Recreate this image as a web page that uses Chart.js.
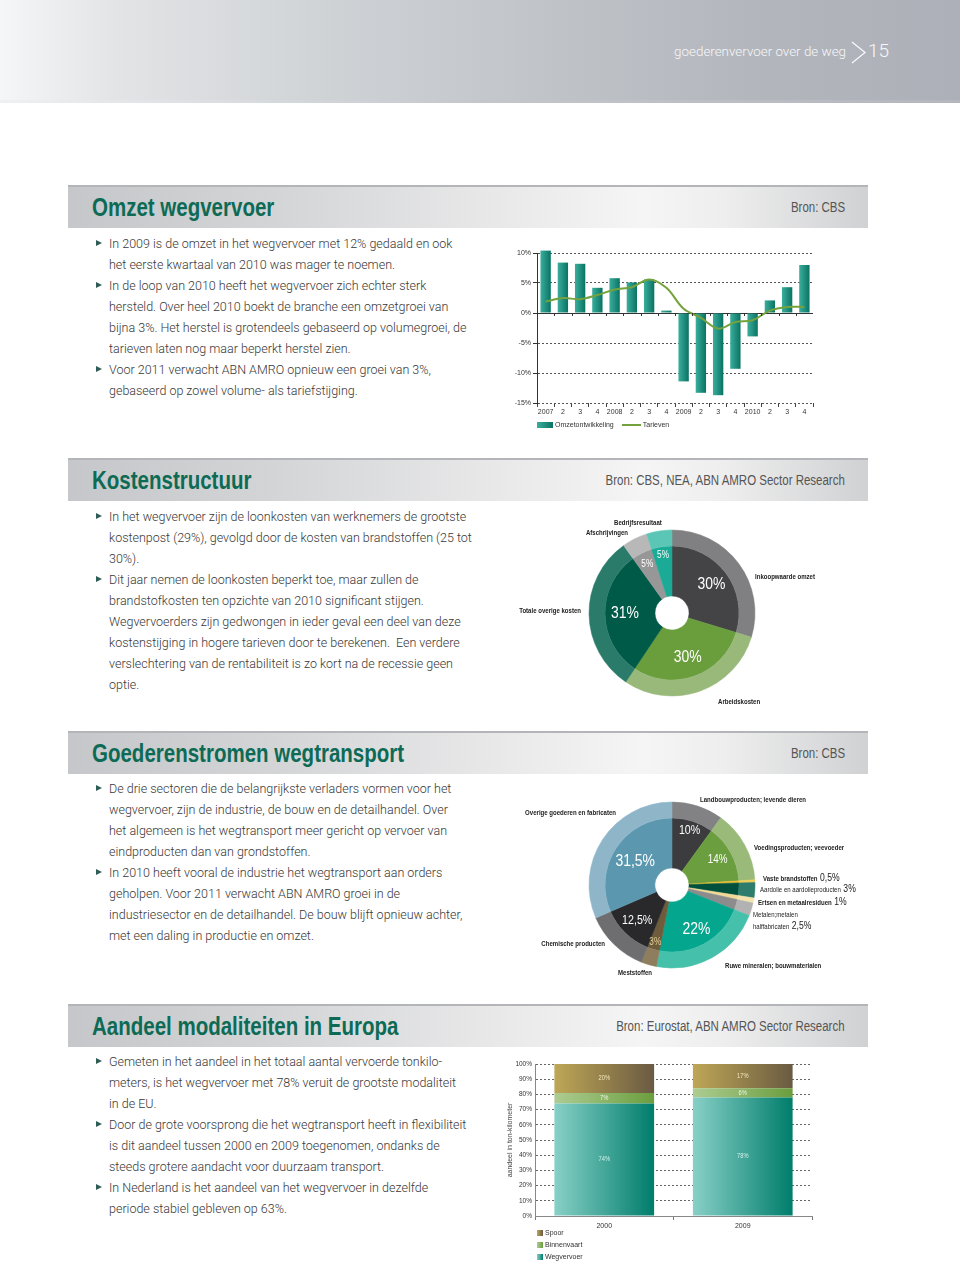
<!DOCTYPE html>
<html lang="nl">
<head>
<meta charset="utf-8">
<title>goederenvervoer over de weg</title>
<script src="https://cdn.jsdelivr.net/npm/chart.js@4.4.1/dist/chart.umd.min.js"></script>
<style>
  html, body { margin: 0; padding: 0; }
  body { width: 960px; height: 1264px; position: relative; overflow: hidden; background: #fff;
         font-family: Roboto, "Liberation Sans", sans-serif; }
  .kop { position: absolute; left: 0; top: 0; width: 960px; height: 103px;
         background: linear-gradient(to right, #f5f6f7 0%, #e2e4e6 12%, #cfd2d5 35%, #bec1c6 60%, #b2b5bc 80%, #adb0b8 100%); }
  .kop .rand { position: absolute; left: 0; bottom: 0; width: 960px; height: 3px;
               background: linear-gradient(to right, #eef1f4, #c3c7cc 50%, #b3b7bd); }
  .kop .titel { position: absolute; right: 114px; top: 44px; font-size: 13.4px; line-height: 16px;
                font-weight: 300; color: #f7f8f9; white-space: nowrap; }
  .kop .nr { position: absolute; left: 868px; top: 40px; font-size: 19px; line-height: 22px;
             font-weight: 300; color: #f7f8f9; }
  .kop svg { position: absolute; left: 850px; top: 41px; }
  .balk { position: absolute; left: 68px; width: 800px; height: 41px; border-top: 2px solid #b3b5b8;
          background: linear-gradient(to right, #c5c7ca 0%, #d3d4d6 25%, #e6e6e7 50%, #f5f5f5 72%, #eeeeee 82%, #d0d1d3 100%); }
  .balk .kopje { position: absolute; left: 24px; top: 0; line-height: 41px; font-size: 25px; font-weight: 700;
                 color: #0d6b55; white-space: nowrap; transform-origin: left center; }
  .balk .bron { position: absolute; right: 23px; top: 0; line-height: 41px; font-size: 14px;
                color: #555; white-space: nowrap; transform-origin: right center; }
  .tekst { position: absolute; left: 96px; font-size: 12.5px; line-height: 21px; font-weight: 300;
           color: #383838; white-space: nowrap; }
  .tekst .p { position: relative; padding-left: 13px; }
  .tekst .p::before { content: ""; position: absolute; left: 0; top: 7px; width: 0; height: 0;
                      border-left: 6px solid #2f5d55; border-top: 3.5px solid transparent; border-bottom: 3.5px solid transparent; }
  canvas { position: absolute; }
  .legenda { position: absolute; font-size: 7px; line-height: 12px; color: #333; white-space: nowrap; }
  .legenda .item { display: inline-block; margin-right: 8px; }
  .legenda.staand .item { display: block; }
  .legenda .blok { display: inline-block; vertical-align: middle; margin-right: 2px; }
</style>
</head>
<body>

<div class="kop">
  <div class="titel">goederenvervoer over de weg</div>
  <svg width="18" height="24" viewBox="0 0 18 24"><polyline points="2,1 15,11.5 2,22" fill="none" stroke="#f7f8f9" stroke-width="1.3"/></svg>
  <div class="nr">15</div>
  <div class="rand"></div>
</div>

<div class="balk" style="top:185px"><span class="kopje smal">Omzet wegvervoer</span><span class="bron smal">Bron: CBS</span></div>
<div class="tekst" style="top:233px">
  <div class="p">In 2009 is de omzet in het wegvervoer met 12% gedaald en ook<br>het eerste kwartaal van 2010 was mager te noemen.</div>
  <div class="p">In de loop van 2010 heeft het wegvervoer zich echter sterk<br>hersteld. Over heel 2010 boekt de branche een omzetgroei van<br>bijna 3%. Het herstel is grotendeels gebaseerd op volumegroei, de<br>tarieven laten nog maar beperkt herstel zien.</div>
  <div class="p">Voor 2011 verwacht ABN AMRO opnieuw een groei van 3%,<br>gebaseerd op zowel volume- als tariefstijging.</div>
</div>
<canvas id="omzet" width="330" height="178" style="left:495px; top:243px"></canvas>
<div id="omzetLegenda" class="legenda" style="left:537px; top:419px"></div>

<div class="balk" style="top:458px"><span class="kopje smal">Kostenstructuur</span><span class="bron smal">Bron: CBS, NEA, ABN AMRO Sector Research</span></div>
<div class="tekst" style="top:506px">
  <div class="p">In het wegvervoer zijn de loonkosten van werknemers de grootste<br>kostenpost (29%), gevolgd door de kosten van brandstoffen (25 tot<br>30%).</div>
  <div class="p">Dit jaar nemen de loonkosten beperkt toe, maar zullen de<br>brandstofkosten ten opzichte van 2010 significant stijgen.<br>Wegvervoerders zijn gedwongen in ieder geval een deel van deze<br>kostenstijging in hogere tarieven door te berekenen.&nbsp; Een verdere<br>verslechtering van de rentabiliteit is zo kort na de recessie geen<br>optie.</div>
</div>
<canvas id="kosten" width="365" height="202" style="left:505px; top:510px"></canvas>

<div class="balk" style="top:731px"><span class="kopje smal">Goederenstromen wegtransport</span><span class="bron smal">Bron: CBS</span></div>
<div class="tekst" style="top:778px">
  <div class="p">De drie sectoren die de belangrijkste verladers vormen voor het<br>wegvervoer, zijn de industrie, de bouw en de detailhandel. Over<br>het algemeen is het wegtransport meer gericht op vervoer van<br>eindproducten dan van grondstoffen.</div>
  <div class="p">In 2010 heeft vooral de industrie het wegtransport aan orders<br>geholpen. Voor 2011 verwacht ABN AMRO groei in de<br>industriesector en de detailhandel. De bouw blijft opnieuw achter,<br>met een daling in productie en omzet.</div>
</div>
<canvas id="goederen" width="365" height="190" style="left:505px; top:790px"></canvas>

<div class="balk" style="top:1004px"><span class="kopje smal">Aandeel modaliteiten in Europa</span><span class="bron smal">Bron: Eurostat, ABN AMRO Sector Research</span></div>
<div class="tekst" style="top:1051px">
  <div class="p">Gemeten in het aandeel in het totaal aantal vervoerde tonkilo-<br>meters, is het wegvervoer met 78% veruit de grootste modaliteit<br>in de EU.</div>
  <div class="p">Door de grote voorsprong die het wegtransport heeft in flexibiliteit<br>is dit aandeel tussen 2000 en 2009 toegenomen, ondanks de<br>steeds grotere aandacht voor duurzaam transport.</div>
  <div class="p">In Nederland is het aandeel van het wegvervoer in dezelfde<br>periode stabiel gebleven op 63%.</div>
</div>
<canvas id="aandeel" width="325" height="177" style="left:495px; top:1055px"></canvas>
<div id="aandeelLegenda" class="legenda staand" style="left:537px; top:1227px"></div>

<script>
// omzet wegvervoer, procentuele verandering per kwartaal
const kwartalen = ['2007', '2', '3', '4', '2008', '2', '3', '4', '2009', '2', '3', '4', '2010', '2', '3', '4'];
const omzetontwikkeling = [10.4, 8.4, 8.2, 4.2, 5.8, 5.1, 5.6, 0.4, -11.4, -13.3, -13.7, -9.3, -3.9, 2.1, 4.3, 8.0];
const tarieven = [1.9, 2.5, 2.3, 3.0, 3.9, 4.3, 5.6, 4.2, 0.7, -0.8, -2.6, -1.5, -1.2, 0.4, 1.0, 1.0];
const omzetTicks = [10, 5, 0, -5, -10, -15];

// kostenstructuur
const kostenLabels = ['Inkoopwaarde omzet', 'Arbeidskosten', 'Totale overige kosten', 'Afschrijvingen', 'Bedrijfsresultaat'];
const kostenWaarden = [30, 30, 31, 5, 5];

// goederenstromen
const goederenLabels = ['Landbouwproducten; levende dieren', 'Voedingsproducten; veevoeder', 'Vaste brandstoffen',
  'Aardolie en aardolieproducten', 'Ertsen en metaalresiduen', ['Metalen;metalen', 'halffabricaten'],
  'Ruwe mineralen; bouwmaterialen', 'Meststoffen', 'Chemische producten', 'Overige goederen en fabricaten'];
const goederenWaarden = [10, 14, 0.5, 3, 1, 2.5, 22, 3, 12.5, 31.5];

// aandeel modaliteiten
const jaren = ['2000', '2009'];
const wegvervoer = [74, 78];
const binnenvaart = [7, 6];
const spoor = [20, 17];
const aandeelTicks = [0, 10, 20, 30, 40, 50, 60, 70, 80, 90, 100];

// kijken of er een smalle letter is, anders Liberation Sans smaller maken
const SMAL = (function () {
  const c = document.createElement('canvas').getContext('2d');
  c.font = '20px monospace';
  const basis = c.measureText('Goederenvervoer 2009').width;
  c.font = '20px "Liberation Sans Narrow", monospace';
  return c.measureText('Goederenvervoer 2009').width !== basis;
})();
const smalFamilie = SMAL ? '"Liberation Sans Narrow", "Liberation Sans", sans-serif' : '"Liberation Sans", Arial, sans-serif';
const knijp = SMAL ? 1 : 0.82;

document.querySelectorAll('.smal').forEach(el => {
  el.style.fontFamily = smalFamilie;
  if (!SMAL) el.style.transform = 'scaleX(0.82)';
});

function procent(v) {
  return String(v).replace('.', ',') + '%';
}

function schrijf(ctx, tekst, x, y, uitlijning) {
  ctx.save();
  ctx.translate(x, y);
  ctx.scale(knijp, 1);
  ctx.textAlign = uitlijning;
  ctx.fillText(tekst, 0, 0);
  ctx.restore();
  return ctx.measureText(tekst).width * knijp;
}

function balkVerloop(c, licht, donker) {
  const chart = c.chart;
  const area = chart.chartArea;
  if (!area || c.type !== 'data') return donker;
  const ds = chart.data.datasets[c.datasetIndex];
  const cat = (area.right - area.left) / chart.data.labels.length;
  const w = cat * ds.categoryPercentage * ds.barPercentage;
  const mid = chart.scales.x.getPixelForValue(c.dataIndex);
  const g = chart.ctx.createLinearGradient(mid - w / 2, 0, mid + w / 2, 0);
  g.addColorStop(0, licht);
  g.addColorStop(1, donker);
  return g;
}

Chart.defaults.font.family = smalFamilie;
Chart.defaults.color = '#333';

// kleine streepjes op de nullijn
const nulStreepjes = {
  id: 'nulStreepjes',
  afterDatasetsDraw(chart) {
    const x = chart.scales.x, y = chart.scales.y, ctx = chart.ctx;
    const y0 = y.getPixelForValue(0);
    const n = chart.data.labels.length;
    const cat = (x.right - x.left) / n;
    ctx.save();
    ctx.strokeStyle = '#333';
    ctx.lineWidth = 1;
    ctx.beginPath();
    for (let i = 1; i < n; i++) {
      const px = Math.round(x.left + i * cat) + 0.5;
      ctx.moveTo(px, y0);
      ctx.lineTo(px, y0 + 3);
    }
    ctx.stroke();
    ctx.restore();
  }
};

const omzetChart = new Chart(document.getElementById('omzet'), {
  data: {
    labels: kwartalen,
    datasets: [
      { type: 'bar', label: 'Omzetontwikkeling', data: omzetontwikkeling, order: 1, clip: false,
        categoryPercentage: 0.6, barPercentage: 1,
        backgroundColor: c => balkVerloop(c, '#3aae9d', '#0a7363') },
      { type: 'line', label: 'Tarieven', data: tarieven, order: 0,
        borderColor: '#74a23c', borderWidth: 2, pointRadius: 0, tension: 0.35 }
    ]
  },
  options: {
    responsive: false,
    animation: false,
    layout: { padding: { top: 10, right: 12, left: 0, bottom: 0 } },
    plugins: { legend: { display: false }, tooltip: { enabled: false } },
    scales: {
      x: {
        grid: { offset: true, drawOnChartArea: false, tickLength: 4, color: '#444' },
        border: { display: false },
        ticks: { font: { size: 7 }, color: '#333', padding: 1, maxRotation: 0, autoSkip: false },
        afterFit: s => { s.height = 18; }
      },
      y: {
        min: -15,
        max: 10,
        afterBuildTicks: s => { s.ticks = omzetTicks.map(v => ({ value: v })); },
        grid: { color: c => (c.tick && c.tick.value === 0) ? '#333' : '#555', tickLength: 4, tickColor: '#333' },
        border: { display: true, color: '#333', dash: c => (c.tick && c.tick.value !== 0) ? [2, 2] : [] },
        ticks: { font: { size: 7 }, color: '#333', padding: 2, callback: v => v + '%' },
        afterFit: s => { s.width = 42; }
      }
    }
  },
  plugins: [nulStreepjes]
});

// legenda onder de omzetgrafiek
(function () {
  const el = document.getElementById('omzetLegenda');
  omzetChart.data.datasets.forEach(ds => {
    const item = document.createElement('span');
    item.className = 'item';
    const blok = document.createElement('span');
    blok.className = 'blok';
    if (ds.type === 'bar') {
      blok.style.width = '16px';
      blok.style.height = '6px';
      blok.style.background = 'linear-gradient(to right, #3aae9d, #0a7363)';
    } else {
      blok.style.width = '19px';
      blok.style.height = '2px';
      blok.style.background = ds.borderColor;
    }
    item.appendChild(blok);
    const t = document.createElement('span');
    t.textContent = ds.label;
    t.style.fontFamily = smalFamilie;
    item.appendChild(t);
    el.appendChild(item);
  });
})();

// tekst rond en in de ringen
const donutTekst = {
  id: 'donutTekst',
  afterDraw(chart, args, opts) {
    const ctx = chart.ctx;
    const area = chart.chartArea;
    const cx = (area.left + area.right) / 2, cy = (area.top + area.bottom) / 2;
    const waarden = chart.data.datasets[1].data;
    ctx.save();
    ctx.textBaseline = 'middle';
    chart.getDatasetMeta(1).data.forEach((arc, i) => {
      const st = opts.binnen[i];
      if (!st) return;
      const p = arc.getProps(['startAngle', 'endAngle', 'x', 'y'], true);
      const mid = (p.startAngle + p.endAngle) / 2;
      ctx.font = `300 ${st.size}px ${smalFamilie}`;
      ctx.fillStyle = st.kleur || '#fff';
      schrijf(ctx, procent(waarden[i]), p.x + Math.cos(mid) * st.r, p.y + Math.sin(mid) * st.r, 'center');
    });
    opts.buiten.forEach((pos, i) => {
      const naam = chart.data.labels[i];
      const regels = Array.isArray(naam) ? naam : [naam];
      regels.forEach((r, k) => {
        const x = cx + pos.dx, y = cy + pos.dy + k * 12;
        ctx.font = `${pos.vet === false ? 400 : 700} 7.4px ${smalFamilie}`;
        ctx.fillStyle = '#222';
        const w = schrijf(ctx, r, x, y, pos.align);
        if (pos.waarde && k === regels.length - 1) {
          ctx.font = `400 10.5px ${smalFamilie}`;
          schrijf(ctx, procent(waarden[i]), x + w + 2.5, y - 0.5, 'left');
        }
      });
    });
    ctx.restore();
  }
};

const RING_BUITEN = 83, GAT = 17;

function donut(id, labels, waarden, licht, donker, padding, binnen, buiten) {
  return new Chart(document.getElementById(id), {
    type: 'doughnut',
    data: {
      labels: labels,
      datasets: [
        { data: waarden, backgroundColor: licht, borderColor: licht, borderWidth: 0.5, weight: 16 },
        { data: waarden, backgroundColor: donker, borderColor: donker, borderWidth: 0.5, weight: 50 }
      ]
    },
    options: {
      responsive: false,
      animation: false,
      radius: RING_BUITEN,
      cutout: (GAT / RING_BUITEN * 100) + '%',
      layout: { padding: padding },
      plugins: {
        legend: { display: false },
        tooltip: { enabled: false },
        donutTekst: { binnen: binnen, buiten: buiten }
      }
    },
    plugins: [donutTekst]
  });
}

donut('kosten', kostenLabels, kostenWaarden,
  ['#808082', '#98b97a', '#2b7b6b', '#b8b8b8', '#5cc6b6'],
  ['#444446', '#6a9e3c', '#005a48', '#979797', '#1aaa96'],
  { left: 0, right: 31, top: 4, bottom: 0 },
  [{ size: 17, r: 49 }, { size: 17, r: 47 }, { size: 17, r: 47 }, { size: 10, r: 55 }, { size: 10, r: 58 }],
  [
    { dx: 83, dy: -36, align: 'left' },
    { dx: 46, dy: 89, align: 'left' },
    { dx: -91, dy: -2, align: 'right' },
    { dx: -44, dy: -80, align: 'right' },
    { dx: -58, dy: -90, align: 'left' }
  ]);

donut('goederen', goederenLabels, goederenWaarden,
  ['#828284', '#9aba7a', '#efcf58', '#2d7c6c', '#f5e3ae', '#b2b2b2', '#45c0aa', '#8f7e5e', '#6e6e70', '#8fb6c8'],
  ['#3c3c3e', '#6b9e3e', '#e8c030', '#00503e', '#f0d996', '#8c8c8c', '#04a68d', '#6e5c3c', '#29292b', '#5b98b0'],
  { left: 0, right: 31, top: 0, bottom: 0 },
  [{ size: 13, r: 57 }, { size: 12, r: 52 }, null, null, null, null,
   { size: 17, r: 51 }, { size: 10, r: 60, kleur: '#e2cf95' }, { size: 13, r: 50 }, { size: 17, r: 44 }],
  [
    { dx: 28, dy: -85, align: 'left' },
    { dx: 82, dy: -37, align: 'left' },
    { dx: 91, dy: -6, align: 'left', waarde: true },
    { dx: 88, dy: 5, align: 'left', waarde: true, vet: false },
    { dx: 86, dy: 18, align: 'left', waarde: true },
    { dx: 81, dy: 30, align: 'left', waarde: true, vet: false },
    { dx: 53, dy: 81, align: 'left' },
    { dx: -37, dy: 88, align: 'center' },
    { dx: -67, dy: 59, align: 'right' },
    { dx: -56, dy: -72, align: 'right' }
  ]);

// percentages in de gestapelde balken
const balkWaarden = {
  id: 'balkWaarden',
  afterDatasetsDraw(chart, args, opts) {
    const ctx = chart.ctx;
    const top = chart.chartArea.top;
    ctx.save();
    ctx.textBaseline = 'middle';
    ctx.font = `400 7px ${smalFamilie}`;
    chart.data.datasets.forEach((ds, d) => {
      ctx.fillStyle = opts.kleuren[d];
      chart.getDatasetMeta(d).data.forEach((bar, i) => {
        const p = bar.getProps(['x', 'y', 'base'], true);
        const y = (Math.max(p.y, top) + p.base) / 2;
        schrijf(ctx, ds.data[i] + '%', p.x, y, 'center');
      });
    });
    ctx.restore();
  }
};

const aandeelKleuren = [
  ['#88d0c7', '#007d6b'],
  ['#adcc92', '#6b9e3e'],
  ['#bea756', '#6a5a42']
];

const aandeelChart = new Chart(document.getElementById('aandeel'), {
  type: 'bar',
  data: {
    labels: jaren,
    datasets: [
      { label: 'Wegvervoer', data: wegvervoer, categoryPercentage: 0.72, barPercentage: 1,
        backgroundColor: c => balkVerloop(c, aandeelKleuren[0][0], aandeelKleuren[0][1]) },
      { label: 'Binnenvaart', data: binnenvaart, categoryPercentage: 0.72, barPercentage: 1,
        backgroundColor: c => balkVerloop(c, aandeelKleuren[1][0], aandeelKleuren[1][1]) },
      { label: 'Spoor', data: spoor, categoryPercentage: 0.72, barPercentage: 1,
        backgroundColor: c => balkVerloop(c, aandeelKleuren[2][0], aandeelKleuren[2][1]) }
    ]
  },
  options: {
    responsive: false,
    animation: false,
    layout: { padding: { top: 9, right: 8, left: 0, bottom: 0 } },
    plugins: {
      legend: { display: false },
      tooltip: { enabled: false },
      balkWaarden: { kleuren: ['#d2f0ea', '#eef5e4', '#f3e6bc'] }
    },
    scales: {
      x: {
        stacked: true,
        grid: { offset: true, drawOnChartArea: false, tickLength: 4, color: '#777' },
        border: { display: true, color: '#888' },
        ticks: { font: { size: 7 }, color: '#333', padding: 2 },
        afterFit: s => { s.height = 16; }
      },
      y: {
        stacked: true,
        min: 0,
        max: 100,
        afterBuildTicks: s => { s.ticks = aandeelTicks.map(v => ({ value: v })); },
        grid: { color: '#666', drawTicks: false },
        border: { display: true, color: '#888', dash: c => c.tick ? [2, 2] : [] },
        ticks: { font: { size: 6.5 }, color: '#333', padding: 3, callback: v => v + '%' },
        title: { display: true, text: 'aandeel in ton-kilometer', font: { size: 7 }, color: '#444', padding: { top: 11, bottom: 0 } },
        afterFit: s => { s.width = 40; }
      }
    }
  },
  plugins: [balkWaarden]
});

// staande legenda, bovenste laag eerst
(function () {
  const el = document.getElementById('aandeelLegenda');
  aandeelChart.data.datasets.slice().reverse().forEach(ds => {
    const d = aandeelChart.data.datasets.indexOf(ds);
    const item = document.createElement('span');
    item.className = 'item';
    const blok = document.createElement('span');
    blok.className = 'blok';
    blok.style.width = '6px';
    blok.style.height = '6px';
    blok.style.background = `linear-gradient(to right, ${aandeelKleuren[d][0]}, ${aandeelKleuren[d][1]})`;
    item.appendChild(blok);
    const t = document.createElement('span');
    t.textContent = ds.label;
    t.style.fontFamily = smalFamilie;
    item.appendChild(t);
    el.appendChild(item);
  });
})();
</script>
</body>
</html>
